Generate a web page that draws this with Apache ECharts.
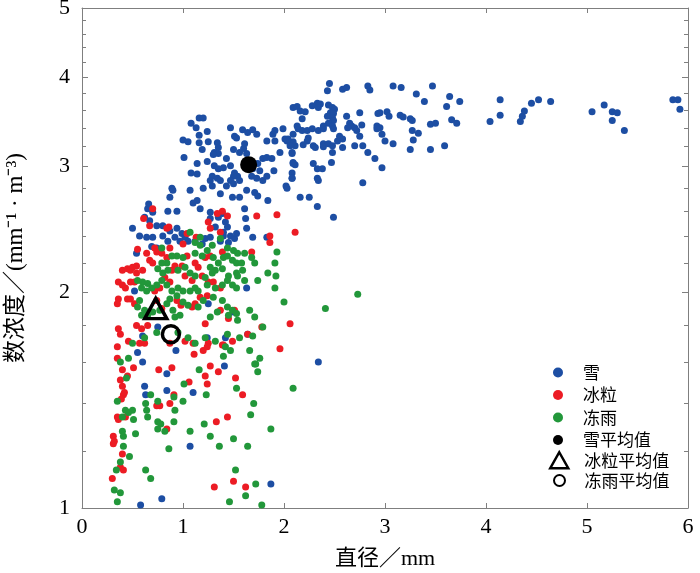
<!DOCTYPE html>
<html><head><meta charset="utf-8">
<script src="https://cdn.jsdelivr.net/npm/echarts@6/dist/echarts.min.js"></script>
<style>html,body{margin:0;padding:0;background:#fff}#c{width:700px;height:573px}</style>
</head><body><div id="c"></div>
<script>
// ---- data: [diameter (mm), number concentration (mm^-1 m^-3)] ----
const snow = [
[3.08,3.89],[3.16,3.87],[3.31,3.79],[3.47,3.89],[3.39,3.70],[3.64,3.76],[3.74,3.70],[3.61,3.64],[4.14,3.72],[4.14,3.54],
[4.04,3.47],[4.34,3.47],[4.36,3.53],[4.38,3.59],[4.45,3.68],[4.52,3.72],[4.64,3.70],[5.05,3.58],[5.17,3.66],[5.25,3.58],
[5.30,3.57],[5.25,3.48],[5.37,3.37],[5.85,3.72],[5.90,3.72],[5.92,3.61],
[2.95,3.57],[3.02,3.58],[3.04,3.53],[3.15,3.54],[3.18,3.52],[3.25,3.50],[3.27,3.48],[3.27,3.37],[3.33,3.34],[3.28,3.27],
[3.25,3.17],[3.45,3.44],[3.50,3.45],[3.66,3.49],[3.71,3.45],[3.59,3.21],[3.45,3.17],[2.95,3.40],[2.97,3.33],[3.00,3.26],
[3.08,3.23],[2.97,2.99],
[2.45,3.92],[2.43,3.83],[2.58,3.85],[2.62,3.87],[2.83,3.89],[2.85,3.84],[2.09,3.63],[2.13,3.64],[2.16,3.59],[2.21,3.58],
[2.28,3.65],[2.33,3.68],[2.36,3.67],[2.34,3.63],[2.44,3.66],[2.48,3.63],[2.50,3.61],[2.46,3.57],[2.49,3.56],[2.43,3.53],
[2.48,3.51],[2.49,3.48],[2.44,3.45],[2.39,3.42],[2.48,3.42],[2.49,3.39],[2.18,3.50],[2.14,3.39],[2.18,3.37],[2.23,3.37],
[2.28,3.39],[2.34,3.37],[2.39,3.39],[2.24,3.29],[2.23,3.26],[2.19,3.22],[2.11,3.21],[2.09,3.25],[2.04,3.28],[2.01,3.28],
[2.29,3.21],[2.31,3.19],[2.39,3.23],[2.39,3.20],[2.44,3.23],[2.48,3.21],[2.53,3.26],[2.55,3.31],[2.58,3.28],[2.58,3.19],
[2.48,3.14],[2.62,3.53],[2.65,3.45],[2.67,3.42],[2.70,3.40],[2.63,3.40],[2.72,3.37],[2.75,3.31],[2.77,3.43],[2.75,3.57],
[2.70,3.21],[2.78,3.21],[2.83,3.14],[2.90,3.08],[2.93,3.56],[2.92,3.42],[2.92,3.39],[2.08,3.13],[2.09,3.04],[2.11,3.02],
[2.08,2.94],[2.08,2.89],[2.02,2.82],[2.29,3.03],[2.33,2.98],[2.38,2.98],[2.33,2.89],[2.34,2.87],[2.16,2.72],[2.25,2.72],
[2.33,2.64],[2.49,2.55],[2.47,3.04],[2.78,2.85],
[1.16,3.51],[1.20,3.51],[1.08,3.45],[1.13,3.40],[1.24,3.36],[1.16,3.32],[1.00,3.27],[1.05,3.25],[1.16,3.24],[1.25,3.25],
[1.34,3.24],[1.35,3.19],[1.19,3.17],[1.31,3.14],[1.35,3.13],[1.30,3.12],[1.01,3.09],[1.14,3.03],[1.24,3.05],[1.31,3.01],
[1.35,2.98],[1.08,2.94],[1.14,2.93],[1.29,2.91],[1.34,2.89],[1.37,2.87],[1.27,2.87],[1.43,3.08],[1.50,3.17],[1.47,3.40],
[1.51,3.31],[1.53,3.29],[1.59,3.38],[1.64,3.35],[1.69,3.38],[1.73,3.33],[1.61,3.23],[1.60,3.18],[1.56,3.14],[1.63,3.13],
[1.40,2.99],[1.47,3.01],[1.51,2.94],[1.54,2.91],[1.50,2.91],[1.47,2.87],[1.43,2.82],[1.50,2.84],[1.56,2.87],[1.68,2.91],
[1.73,2.89],[1.79,2.87],[1.83,2.91],[1.76,2.96],[1.69,2.98],[1.74,3.03],[1.79,3.08],[1.88,3.08],[1.90,2.96],[1.83,3.09],
[1.89,3.33],[1.91,3.26],[1.83,3.26],[1.96,3.14],[2.03,3.26],[2.06,3.21],[2.08,3.14],[2.09,3.03],[2.08,2.89],[2.03,2.80],
[2.13,3.42],[2.09,3.33],[1.91,3.37],[1.99,3.39],
[0.89,2.80],[0.87,2.72],[0.90,2.78],[1.07,2.78],[1.20,2.80],[1.29,2.82],[1.37,2.75],[1.49,2.72],[1.56,2.72],[1.63,2.78],
[1.71,2.76],[1.74,2.73],[1.84,2.69],[1.14,2.69],[1.10,2.67],[1.17,2.62],[1.27,2.59],[1.35,2.55],[1.39,2.58],[1.42,2.51],
[1.44,2.47],[1.40,2.43],[1.27,2.54],[1.32,2.47],[1.47,2.40],[1.51,2.38],[1.61,2.62],[1.62,2.54],[1.63,2.46],[1.69,2.39],
[1.83,2.39],[0.94,2.60],[0.85,2.60],[0.66,2.66],[0.65,2.62],[0.70,2.59],[0.62,2.55],[0.67,2.52],[0.74,2.48],[0.80,2.48],
[0.87,2.44],[0.94,2.46],[0.99,2.42],[0.92,2.39],[0.50,2.46],[0.57,2.40],[0.64,2.39],[0.70,2.39],[0.80,2.40],[0.85,2.36],
[0.97,2.36],[1.02,2.39],[1.05,2.36],[1.12,2.36],[1.19,2.34],[1.22,2.38],[1.27,2.39],[1.40,2.40],[1.45,2.35],[1.37,2.36],
[1.53,2.42],[0.54,2.27],[0.69,2.32],[0.74,2.31],
[0.52,2.01],[1.25,1.93],[1.50,1.88],[1.63,2.03],[0.75,1.79],[0.60,1.74],[0.55,1.65],[0.93,1.66],[1.24,1.73],[1.42,1.73],
[1.64,1.75],[2.34,1.60],[1.41,1.58],[0.84,1.54],[0.62,1.48],[0.63,1.44],[0.84,1.46],[1.10,1.45],[1.07,1.22],[1.87,1.08],
[0.79,1.03],[0.58,1.01],[0.60,1.60]
];
const icePellets = [
[0.70,2.62],[0.61,2.54],[0.67,2.48],[0.84,2.46],[0.86,2.47],[1.25,2.51],[1.27,2.46],[1.34,2.58],[1.39,2.60],[1.44,2.56],
[1.37,2.43],[1.73,2.56],[1.93,2.57],[1.86,2.40],[1.86,2.35],[2.11,2.43],[1.13,2.39],[1.04,2.42],[0.55,2.30],[0.72,2.31],
[0.87,2.31],[1.00,2.34],
[0.40,2.15],[0.45,2.16],[0.48,2.15],[0.50,2.17],[0.54,2.18],[0.67,2.22],[0.70,2.20],[0.64,2.27],[0.74,2.28],[0.79,2.27],
[0.84,2.24],[0.92,2.18],[0.89,2.15],[0.99,2.18],[1.04,2.25],[1.12,2.20],[1.15,2.17],[1.22,2.24],[1.27,2.25],[1.39,2.28],
[0.36,2.07],[0.40,2.05],[0.43,2.03],[0.48,2.07],[0.52,2.07],[0.54,2.13],[0.82,2.10],[0.87,2.07],[0.77,2.03],[0.72,2.01],
[1.02,2.11],[1.09,2.08],[1.19,2.11],[1.25,2.07],[1.30,2.07],[1.37,2.03],[1.24,1.98],[1.17,1.97],[0.36,1.96],[0.45,1.96],
[0.48,1.96],[0.35,1.93],[0.52,1.93],[0.74,1.95],[0.79,1.90],[0.94,1.95],[0.98,1.92],[1.09,1.91],[1.12,1.93],[1.37,1.89],
[1.51,1.89],[1.45,1.84],[1.22,1.81],[0.54,1.80],[0.59,1.78],[0.65,1.80],[0.36,1.78],[0.46,1.71],[0.35,1.68],[0.57,1.70],
[0.87,1.70],[1.02,1.71],[1.10,1.70],[1.25,1.70],[1.39,1.69],[1.49,1.71],[1.64,1.75],[1.78,1.79],
[2.06,1.81],[1.96,1.67],[0.35,1.62],[0.40,1.56],[0.38,1.51],[0.41,1.44],[0.35,1.34],[0.31,1.26],[0.31,1.23],[0.38,1.14],
[0.30,1.10],[0.60,2.15],[0.38,1.75],
[0.62,1.70],[0.45,1.53],[0.51,1.57],[0.40,1.48],[0.42,1.45],[0.39,1.42],[0.76,1.56],[0.89,1.57],[0.91,1.44],[0.87,1.40],
[0.74,1.39],[0.77,1.39],[0.36,1.33],[0.43,1.34],[0.32,1.24],[0.40,1.19],[0.41,1.13],[0.84,1.29],[1.11,1.64],[1.20,1.66],
[1.24,1.68],[1.27,1.58],[1.22,1.53],[1.24,1.49],[1.06,1.50],[1.35,1.55],[1.44,1.34],[1.33,1.32],[1.52,1.52],[1.59,1.44],
[1.31,1.07],[1.50,1.09],[1.62,1.07],[1.40,1.69],[1.68,2.28]
];
const freezingRain = [
[1.07,2.43],[1.17,2.39],[1.12,2.35],[1.17,2.33],[1.29,2.33],[1.37,2.38],[1.44,2.31],[0.79,2.31],
[1.12,2.27],[1.19,2.25],[1.24,2.29],[1.30,2.24],[1.35,2.20],[1.40,2.24],[1.44,2.25],[1.49,2.22],[1.53,2.20],[1.58,2.20],
[1.50,2.29],[1.54,2.27],[1.61,2.27],[1.68,2.24],[1.71,2.20],[1.59,2.15],[1.53,2.13],[1.54,2.11],[1.45,2.11],[1.39,2.16],
[1.32,2.15],[1.27,2.17],[1.29,2.13],[1.22,2.10],[1.12,2.11],[1.07,2.13],[1.02,2.17],[0.95,2.15],[0.85,2.15],[0.80,2.13],
[0.75,2.16],[0.84,2.20],[0.79,2.20],[1.00,2.24],[0.94,2.25],[0.89,2.25],
[0.55,2.08],[0.60,2.07],[0.65,2.06],[0.59,2.03],[0.64,2.01],[0.69,2.03],[0.74,2.05],[0.79,2.08],[0.84,2.05],[0.89,2.01],
[0.95,2.03],[1.00,2.01],[0.94,1.98],[0.87,1.96],[1.00,1.94],[1.07,2.01],[1.12,2.03],[1.15,2.01],[1.24,2.05],[1.32,2.03],
[1.39,2.05],[1.44,2.08],[1.49,2.05],[1.53,2.03],[1.61,2.08],[1.74,2.08],[1.84,2.13],[1.91,2.20],
[0.57,1.95],[0.55,1.91],[0.59,1.86],[0.65,1.86],[0.62,1.89],[0.70,1.88],[0.77,1.89],[0.84,1.93],[0.90,1.89],[0.92,1.85],
[0.97,1.86],[1.05,1.92],[1.15,1.91],[1.20,1.95],[1.30,1.97],[1.39,1.95],[1.44,1.91],[1.49,1.89],[1.45,1.86],[1.34,1.88],
[1.27,1.85],[1.53,1.87],[1.54,1.83],[1.66,1.89],[1.71,1.85],[1.79,1.79],
[0.50,1.70],[0.62,1.73],[0.74,1.76],[0.95,1.76],[1.05,1.73],[1.12,1.70],[1.22,1.73],[1.32,1.71],[1.44,1.75],[1.56,1.73],
[1.69,1.74],
[1.93,2.28],[1.92,2.11],[1.91,2.03],[2.41,1.90],[2.00,1.94],[1.66,1.66],[1.76,1.62],[1.72,1.59],[1.74,1.55],[1.87,1.29],
[1.70,1.40],[2.09,1.47],[1.64,1.22],[1.50,1.25],[1.52,1.13],[1.72,1.08],[1.78,1.01],[1.62,1.04],[1.46,1.02],
[0.38,1.60],[0.46,1.62],[0.44,1.52],[0.35,1.41],[0.43,1.37],[0.40,1.34],[0.46,1.36],[0.50,1.37],[0.51,1.33],[0.63,1.40],
[0.64,1.37],[0.65,1.34],[0.68,1.44],[0.75,1.41],[0.91,1.43],[0.92,1.37],[0.91,1.32],[1.00,1.41],[0.75,1.32],[0.78,1.31],
[0.75,1.29],[0.82,1.28],[0.53,1.27],[0.40,1.28],[0.41,1.26],[0.41,1.22],[0.47,1.18],[0.38,1.16],[0.34,1.13],[0.63,1.13],
[0.68,1.10],[0.32,1.06],[0.38,1.05],[0.35,1.02],[0.86,1.21],[1.01,1.49],[1.07,1.28],[1.21,1.31],[1.27,1.26],[1.36,1.22],
[1.67,1.35],[1.53,1.47],[1.23,1.44],[1.16,1.56],[1.42,1.68],[1.47,1.66],[1.40,1.63],[1.71,1.59],[2.73,1.99]
];
const snowMean = [[1.65, 3.02]];
const iceMean = [[0.73, 1.90]];
const rainMean = [[0.88, 1.75]];

const yTickLabels = [1, 2, 3, 4, 5];
const yMinorTicks = [1.2,1.4,1.6,1.8,2.2,2.4,2.6,2.8,3.2,3.4,3.6,3.8,4.2,4.4,4.6,4.8];
const xTicks = [0, 1, 2, 3, 4, 5, 6];

const seriesNames = ['雪', '冰粒', '冻雨', '雪平均值', '冰粒平均值', '冻雨平均值'];

// ---- chart ----
const GRAY = '#7f7f7f';
const SERIF = 'Liberation Serif, "Noto Sans CJK SC", serif';
const CJK = '"Noto Sans CJK SC", "Liberation Serif", sans-serif';
const LMAX = Math.log10(5);
const majorLog = yTickLabels.map(v => Math.log10(v));
const minorLog = yMinorTicks.map(v => Math.log10(v));

function tickAxis(position, values, len, withLabels, extra) {
  return Object.assign({
    type: 'value', min: 0, max: LMAX, position: position,
    axisLine: { show: false, onZero: false },
    axisTick: { show: true, inside: true, length: len, customValues: values, lineStyle: { color: GRAY, width: 1 } },
    axisLabel: withLabels ? {
      show: true, customValues: values, margin: 12,
      fontSize: 22, fontFamily: SERIF, color: '#000',
      formatter: v => String(Math.round(Math.pow(10, v)))
    } : { show: false },
    splitLine: { show: false }
  }, extra || {});
}

const legendText = { fontSize: 17, lineHeight: 16, fontFamily: CJK, color: '#000' };

const chart = echarts.init(document.getElementById('c'), null, { renderer: 'canvas' });
chart.setOption({
  animation: false,
  backgroundColor: '#fff',
  grid: { left: 82, right: 12, top: 8, bottom: 65, containLabel: false, outerBoundsMode: 'none' },
  xAxis: [
    {
      type: 'value', min: xTicks[0], max: xTicks[xTicks.length - 1], interval: 1, position: 'bottom',
      axisLine: { show: true, onZero: false, lineStyle: { color: GRAY, width: 1 } },
      axisTick: { inside: true, length: 5, lineStyle: { color: GRAY } },
      axisLabel: { fontSize: 22, fontFamily: SERIF, color: '#000', margin: 8 },
      splitLine: { show: false },
      name: '直径／mm', nameLocation: 'middle', nameGap: 40,
      nameTextStyle: { fontSize: 22, fontFamily: SERIF, color: '#000' }
    },
    {
      type: 'value', min: xTicks[0], max: xTicks[xTicks.length - 1], interval: 1, position: 'top',
      axisLine: { show: true, onZero: false, lineStyle: { color: GRAY, width: 1 } },
      axisTick: { inside: true, length: 5, lineStyle: { color: GRAY } },
      axisLabel: { show: false }, splitLine: { show: false }
    }
  ],
  yAxis: [
    {
      type: 'log', logBase: 10, min: 1, max: 5, position: 'left',
      axisLine: { show: true, onZero: false, lineStyle: { color: GRAY, width: 1 } },
      axisTick: { show: false }, axisLabel: { show: false }, splitLine: { show: false }, minorTick: { show: false }
    },
    tickAxis('left', majorLog, 6, true, {
      name: '数浓度／(mm⁻¹ · m⁻³)', nameLocation: 'middle', nameGap: 55,
      nameTextStyle: { fontSize: 23, fontFamily: SERIF, color: '#000' }
    }),
    tickAxis('right', majorLog, 6, false, {
      axisLine: { show: true, onZero: false, lineStyle: { color: GRAY, width: 1 } }
    }),
    tickAxis('left', minorLog, 4, false),
    tickAxis('right', minorLog, 4, false)
  ],
  legend: [
    {
      data: seriesNames.slice(0, 4), orient: 'vertical', left: 548, top: 359,
      itemWidth: 40, itemHeight: 10, itemGap: 5.5, selectedMode: false,
      textStyle: legendText
    },
    {
      data: [seriesNames[4]], orient: 'vertical', left: 544, top: 446,
      itemWidth: 18, itemHeight: 16, selectedMode: false,
      itemStyle: { borderWidth: 2.5 },
      textStyle: Object.assign({ padding: [0, 0, 0, 11] }, legendText)
    },
    {
      data: [seriesNames[5]], orient: 'vertical', left: 548, top: 467,
      itemWidth: 40, itemHeight: 11, selectedMode: false,
      itemStyle: { borderWidth: 2 },
      textStyle: legendText
    }
  ],
  series: [
    { name: seriesNames[0], type: 'scatter', data: snow, symbolSize: 7, itemStyle: { color: '#1d4ea3', opacity: 1 }, silent: true },
    { name: seriesNames[1], type: 'scatter', data: icePellets, symbolSize: 7, itemStyle: { color: '#ec1c24', opacity: 1 }, silent: true },
    { name: seriesNames[2], type: 'scatter', data: freezingRain, symbolSize: 7, itemStyle: { color: '#22973a', opacity: 1 }, silent: true },
    { name: seriesNames[3], type: 'scatter', data: snowMean, symbolSize: 17, itemStyle: { color: '#000', opacity: 1 }, z: 5, silent: true },
    { name: seriesNames[4], type: 'scatter', data: iceMean, symbol: 'triangle', symbolSize: [22, 20],
      itemStyle: { color: 'rgba(0,0,0,0)', borderColor: '#000', borderWidth: 3.5, opacity: 1 }, z: 5, silent: true },
    { name: seriesNames[5], type: 'scatter', data: rainMean, symbol: 'circle', symbolSize: 17,
      itemStyle: { color: 'rgba(0,0,0,0)', borderColor: '#000', borderWidth: 3.5, opacity: 1 }, z: 5, silent: true }
  ]
});
</script>
</body></html>
